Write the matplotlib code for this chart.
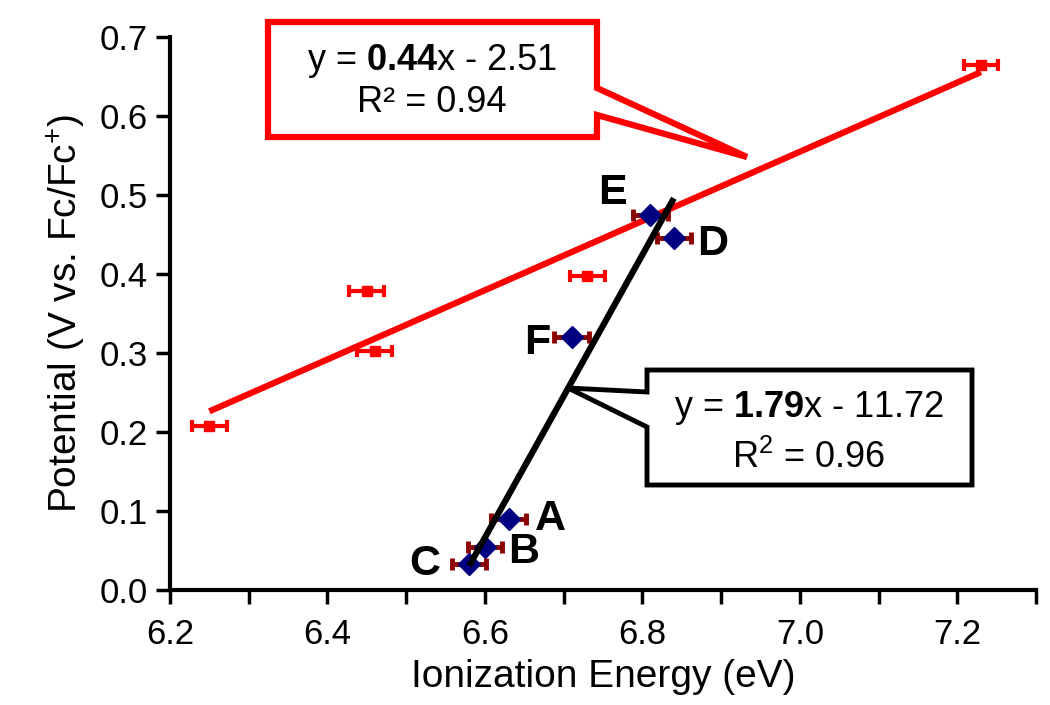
import numpy as np
import matplotlib.pyplot as plt
from matplotlib.patches import Polygon
import matplotlib.ticker as ticker

plt.rcParams['font.family'] = ['Liberation Sans', 'DejaVu Sans']
plt.rcParams['mathtext.fontset'] = 'custom'
plt.rcParams['mathtext.rm'] = 'Liberation Sans'
plt.rcParams['mathtext.bf'] = 'Liberation Sans:bold'
plt.rcParams['mathtext.it'] = 'Liberation Sans:italic'

# red series (plain points)
red_ie = [6.25, 6.45, 6.46, 6.73, 7.23]
red_pot = [0.207, 0.379, 0.302, 0.397, 0.665]
red_err = [0.022, 0.022, 0.022, 0.022, 0.022]

# labelled compounds
blue_labels = ['A', 'B', 'C', 'D', 'E', 'F']
blue_ie = [6.63, 6.60, 6.58, 6.84, 6.81, 6.71]
blue_pot = [0.090, 0.055, 0.033, 0.445, 0.475, 0.320]
blue_err = [0.022, 0.022, 0.022, 0.022, 0.022, 0.022]

red_eq = r'y = $\mathbf{0.44}$x - 2.51'
red_r2 = 'R² = 0.94'
black_eq = r'y = $\mathbf{1.79}$x - 11.72'
black_r2 = r'R$^2$ = 0.96'

W, H = 1050, 705
fig = plt.figure(figsize=(W / 100, H / 100), dpi=100)
ax = fig.add_axes([170 / W, 1 - 590 / H, 866 / W, 553 / H])

# linear fits (trendlines over data range)
rx = np.array(red_ie)
ry = np.array(red_pot)
kr = np.polyfit(rx, ry, 1)
xr = np.array([rx.min(), rx.max()])
ax.plot(xr, np.polyval(kr, xr), color='#ff0000', lw=4.5, solid_capstyle='butt', zorder=2)

ax.errorbar(red_ie, red_pot, xerr=red_err, fmt='s', color='#ff0000', ms=7,
            elinewidth=3, capsize=4, capthick=3, zorder=3)

ax.errorbar(blue_ie, blue_pot, xerr=blue_err, fmt='none', ecolor='#8b0000',
            elinewidth=3.5, capsize=4, capthick=3.5, zorder=4)
ax.plot(blue_ie, blue_pot, 'D', color='#000080', ms=11, zorder=5)

bx = np.array(blue_ie)
by = np.array(blue_pot)
kb = np.polyfit(bx, by, 1)
xb = np.array([bx.min(), bx.max()])
ax.plot(xb, np.polyval(kb, xb), color='black', lw=4.5, solid_capstyle='butt', zorder=6)

offsets = {'A': (30, 0), 'B': (28, -4), 'C': (-32, 0),
           'D': (28, -4), 'E': (-27, 16), 'F': (-25, -4)}
for lab, x, y in zip(blue_labels, blue_ie, blue_pot):
    ax.annotate(lab, (x, y), xytext=offsets[lab], textcoords='offset points',
                ha='center', va='center', fontsize=31, fontweight='bold', zorder=7)

ax.set_xlim(6.2, 7.3)
ax.set_ylim(0, 0.7)
ax.xaxis.set_major_locator(ticker.MultipleLocator(0.2))
ax.xaxis.set_minor_locator(ticker.MultipleLocator(0.1))
ax.xaxis.set_major_formatter(ticker.FormatStrFormatter('%.1f'))
ax.yaxis.set_major_locator(ticker.MultipleLocator(0.1))
ax.yaxis.set_major_formatter(ticker.FormatStrFormatter('%.1f'))
ax.tick_params(which='both', direction='out', length=10, width=2.5, labelsize=25, pad=6)
ax.tick_params(axis='x', pad=10)

for s in ['top', 'right']:
    ax.spines[s].set_visible(False)
for s in ['left', 'bottom']:
    ax.spines[s].set_linewidth(3)

ax.set_xlabel('Ionization Energy (eV)', fontsize=28, labelpad=6)
ax.set_ylabel(r'Potential (V vs. Fc/Fc$^{+}$)', fontsize=28, labelpad=8)


def px(pts):
    return [(x / W, 1 - y / H) for x, y in pts]


red_box = px([(268, 22), (597, 22), (597, 88), (747, 157), (597, 115),
              (597, 137), (268, 137)])
fig.patches.append(Polygon(red_box, closed=True, fc='white', ec='#ff0000', lw=4.5,
                           transform=fig.transFigure, joinstyle='miter', zorder=10))
fig.text(432 / W, 1 - 70 / H, red_eq, ha='center', va='baseline', fontsize=26, zorder=11)
fig.text(432 / W, 1 - 112 / H, red_r2, ha='center', va='baseline', fontsize=26, zorder=11)

black_box = px([(647, 370), (972, 370), (972, 485), (647, 485), (647, 427),
                (568, 388), (647, 392)])
fig.patches.append(Polygon(black_box, closed=True, fc='white', ec='black', lw=3.5,
                           transform=fig.transFigure, joinstyle='miter', zorder=10))
fig.text(809 / W, 1 - 417 / H, black_eq, ha='center', va='baseline', fontsize=26, zorder=11)
fig.text(809 / W, 1 - 468 / H, black_r2, ha='center', va='baseline', fontsize=26, zorder=11)

fig.savefig('out.png', dpi=100)
